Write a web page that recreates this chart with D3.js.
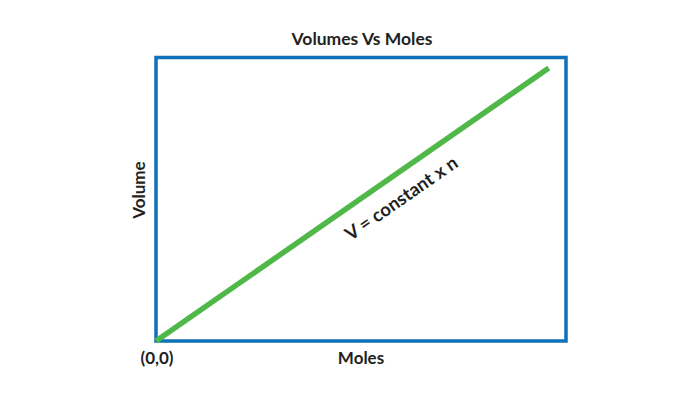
<!DOCTYPE html>
<html><head><meta charset="utf-8">
<script src="https://cdn.jsdelivr.net/npm/d3@7"></script>
<style>body{margin:0;background:#fff}svg{display:block}text{font-family:Lato,"Open Sans",sans-serif;font-weight:bold;fill:#231f20}</style>
</head><body><svg id="c" width="700" height="400"></svg>
<script>
const moles = [0, 9.58];
const volumes = [0, 9.63];
const title = "Volumes Vs Moles";
const xLabel = "Moles";
const yLabel = "Volume";
const originLabel = "(0,0)";
const lineLabel = "V = constant x n";

const svg = d3.select("#c");
const m = {l:156, r:566, t:57.5, b:341};
const x = d3.scaleLinear().domain([0,10]).range([m.l, m.r]);
const y = d3.scaleLinear().domain([0,10]).range([m.b, m.t]);
const blue = "#0f72b9", green = "#50b848";

svg.append("rect").attr("x", x(0)).attr("y", y(10))
  .attr("width", x(10)-x(0)).attr("height", y(0)-y(10))
  .attr("fill","none").attr("stroke",blue).attr("stroke-width",3.5);

const pts = moles.map((d,i)=>[d, volumes[i]]);
svg.append("path").datum(pts)
  .attr("d", d3.line().x(d=>x(d[0])).y(d=>y(d[1])))
  .attr("stroke",green).attr("stroke-width",5.5).attr("fill","none");

svg.append("text").attr("x",362).attr("y",45).attr("text-anchor","middle")
  .attr("font-size",17.5).text(title);
svg.append("text").attr("x",361).attr("y",364).attr("text-anchor","middle")
  .attr("font-size",17).text(xLabel);
svg.append("text").attr("x",157).attr("y",364).attr("text-anchor","middle")
  .attr("font-size",17).text(originLabel);
svg.append("text").attr("transform","translate(145,190) rotate(-90)").attr("text-anchor","middle")
  .attr("font-size",17).text(yLabel);

const ang = Math.atan2(y(0)-y(9.63), x(9.58)-x(0))*180/Math.PI;
svg.append("text").attr("transform",`translate(${x(6.0)+3},${y(5.2)+10}) rotate(${-ang})`)
  .attr("text-anchor","middle").attr("font-size",18.5).attr("font-weight",900).text(lineLabel);
</script></body></html>
